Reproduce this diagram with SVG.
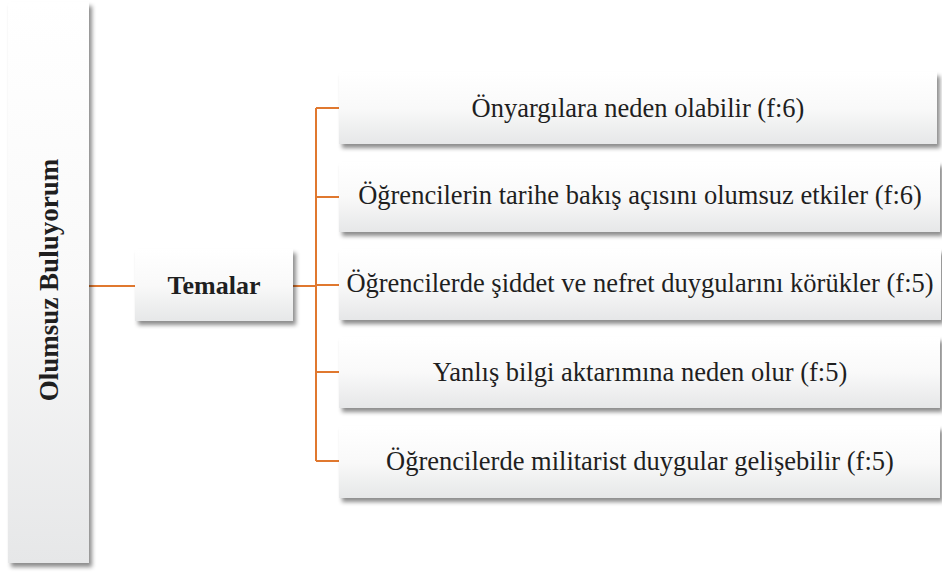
<svg xmlns="http://www.w3.org/2000/svg" width="942" height="577" viewBox="0 0 942 577">
<defs>
<linearGradient id="g" x1="0" y1="0" x2="0" y2="1">
<stop offset="0" stop-color="#ffffff"/>
<stop offset="0.5" stop-color="#f9f9f9"/>
<stop offset="1" stop-color="#e6e7e8"/>
</linearGradient>
<filter id="sh" x="-10%" y="-10%" width="130%" height="140%">
<feDropShadow dx="3" dy="4" stdDeviation="2" flood-color="#000" flood-opacity="0.45"/>
</filter>
</defs>
<style>
.box{fill:url(#g);filter:url(#sh);}
text{font-family:'Liberation Serif','Times New Roman',serif;font-size:26.5px;fill:#1f1f1f;text-anchor:middle;}
.b{font-weight:bold;font-size:26px;}
.c{stroke:#e0782f;stroke-width:2;fill:none;}
</style>
<g id="connectors">
<path class="c" d="M89 286 H135"/>
<path class="c" d="M293 286 H316"/>
<path class="c" d="M316 108 V461"/>
<path class="c" d="M316 108 H339 M316 197 H339 M316 285 H339 M316 372 H339 M316 461 H339"/>
</g>
<g id="root">
<rect class="box" x="8" y="2" width="81" height="561"/>
<text class="b" style="font-size:27px" transform="translate(58 280) rotate(-90)">Olumsuz Buluyorum</text>
</g>
<g id="temalar">
<rect class="box" x="135" y="249" width="158" height="72"/>
<text class="b" x="214" y="294">Temalar</text>
</g>
<g id="n1">
<rect class="box" x="339" y="72" width="598" height="72"/>
<text x="638" y="117">Önyargılara neden olabilir (f:6)</text>
</g>
<g id="n2">
<rect class="box" x="339" y="162" width="601" height="70"/>
<text x="640" y="204">Öğrencilerin tarihe bakış açısını olumsuz etkiler (f:6)</text>
</g>
<g id="n3">
<rect class="box" x="339" y="249" width="602" height="71"/>
<text x="640" y="292">Öğrencilerde şiddet ve nefret duygularını körükler (f:5)</text>
</g>
<g id="n4">
<rect class="box" x="339" y="337" width="601" height="71"/>
<text x="640" y="381">Yanlış bilgi aktarımına neden olur (f:5)</text>
</g>
<g id="n5">
<rect class="box" x="339" y="426" width="601" height="72"/>
<text x="640" y="470">Öğrencilerde militarist duygular gelişebilir (f:5)</text>
</g>
</svg>
